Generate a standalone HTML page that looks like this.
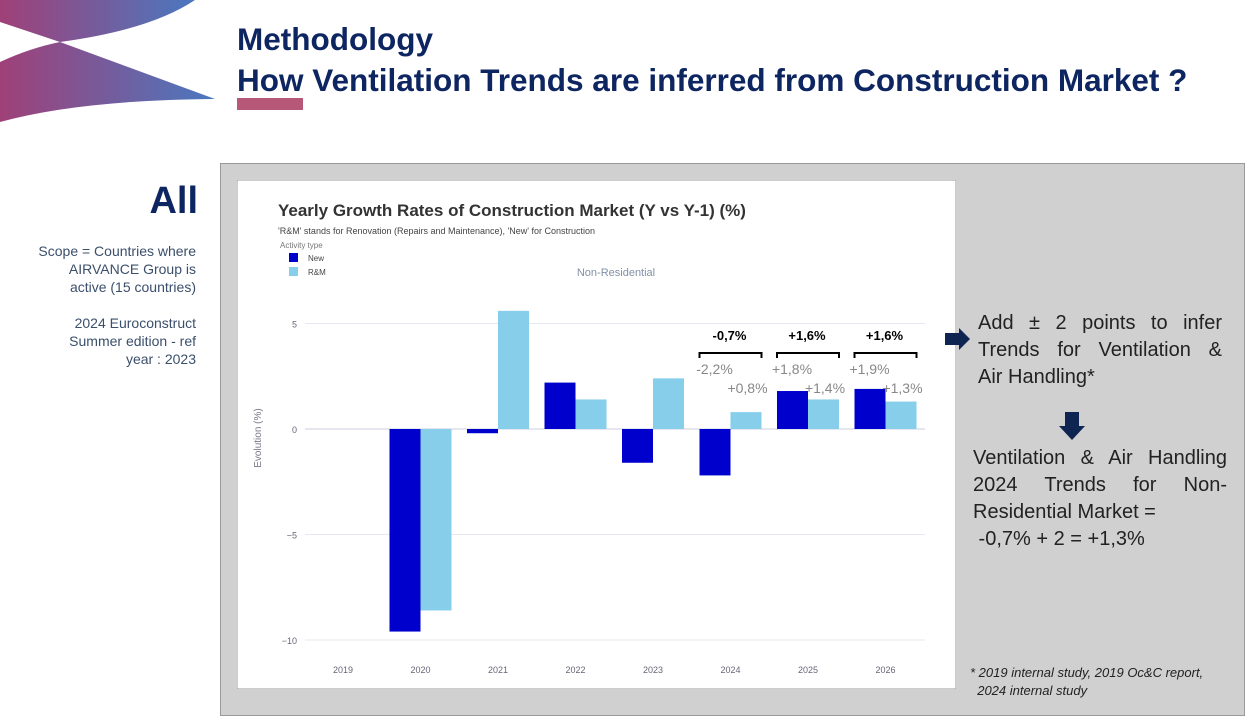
<!DOCTYPE html>
<html><head><meta charset="utf-8"><style>
body{margin:0;width:1252px;height:718px;position:relative;background:#fff;font-family:"Liberation Sans",sans-serif;overflow:hidden}
.abs{position:absolute}
.title{left:237px;color:#0d2560;font-weight:bold;font-size:31.5px;white-space:nowrap}
.lt{right:1056px;text-align:right;color:#3b4f6b;font-size:14px;line-height:18px}
.rt{color:#222;font-size:20px;line-height:27px}
</style></head><body>
<svg class="abs" style="left:0;top:0" width="220" height="125">
<defs><linearGradient id="g" x1="0" x2="1"><stop offset="0" stop-color="#a04078"/><stop offset="1" stop-color="#4a78c0"/></linearGradient></defs>
<path d="M0,0 L195,0 Q150,30 60,42 L0,22 Z" fill="url(#g)"/>
<path d="M0,62 Q30,48 60,42 L215,99 Q80,100 0,122 Z" fill="url(#g)"/>
</svg>
<div class="abs title" style="top:21px">Methodology</div>
<div class="abs title" style="top:62px">How Ventilation Trends are inferred from Construction Market ?</div>
<div class="abs" style="left:237px;top:98px;width:66px;height:12px;background:#b85878"></div>
<div class="abs" style="right:1054px;top:180px;font-size:38px;font-weight:bold;color:#0d2560">All</div>
<div class="abs lt" style="top:242px">Scope = Countries where<br>AIRVANCE Group is<br>active (15 countries)</div>
<div class="abs lt" style="top:314px">2024 Euroconstruct<br>Summer edition - ref<br>year : 2023</div>
<div class="abs" style="left:220px;top:163px;width:1025px;height:553px;background:#d0d0d0;border:1px solid #999;box-sizing:border-box"></div>
<svg class="abs" id="chart" style="left:237px;top:180px" width="719" height="509"></svg>
<svg class="abs" style="left:942px;top:325px" width="30" height="30"><path d="M3,8 H17 V3 L28,14 L17,25 V20 H3 Z" fill="#0d2550"/></svg>
<div class="abs rt" style="left:978px;top:310px;width:244px">
<div style="text-align:justify;text-align-last:justify">Add ± 2 points to infer</div>
<div style="text-align:justify;text-align-last:justify">Trends for Ventilation &amp;</div>
<div>Air Handling*</div></div>
<svg class="abs" style="left:1059px;top:410px" width="28" height="32"><path d="M6,2 H20 V16 H26 L13,30 L0,16 H6 Z" fill="#0d2550"/></svg>
<div class="abs rt" style="left:973px;top:445px;width:254px">
<div style="text-align:justify;text-align-last:justify">Ventilation &amp; Air Handling</div>
<div style="text-align:justify;text-align-last:justify">2024 Trends for Non-</div>
<div>Residential Market =</div>
<div>&nbsp;-0,7% + 2 = +1,3%</div></div>
<div class="abs" style="left:970px;top:664px;font-size:13px;font-style:italic;color:#222;line-height:18px">* 2019 internal study, 2019 Oc&amp;C report,<br>&nbsp;&nbsp;2024 internal study</div>
<script>
const categories=["2019","2020","2021","2022","2023","2024","2025","2026"];
const newVals=[null,-9.6,-0.2,2.2,-1.6,-2.2,1.8,1.9];
const rmVals=[null,-8.6,5.6,1.4,2.4,0.8,1.4,1.3];
const yTicks=[5,0,-5,-10];
const newLabels=[null,null,null,null,null,"-2,2%","+1,8%","+1,9%"];
const rmLabels=[null,null,null,null,null,"+0,8%","+1,4%","+1,3%"];
const groupLabels=[null,null,null,null,null,"-0,7%","+1,6%","+1,6%"];
const svg=document.getElementById('chart');const NS="http://www.w3.org/2000/svg";
function mk(t,a,txt){const e=document.createElementNS(NS,t);for(const k in a)e.setAttribute(k,a[k]);if(txt!=null)e.textContent=txt;svg.appendChild(e);return e;}
const y=v=>249-v*21.1;const step=77.5;const xc=i=>106+i*step;const bw=31;
let e;
e=mk('rect',{x:0,y:0,width:719,height:509,fill:'#fff',stroke:'#999'});


e=mk('text',{x:41,y:36,'font-size':17,'font-weight':'bold',fill:'#333'},'Yearly Growth Rates of Construction Market (Y vs Y-1) (%)');


e=mk('text',{x:41,y:54,'font-size':9,fill:'#444'},"'R&M' stands for Renovation (Repairs and Maintenance), 'New' for Construction");


e=mk('text',{x:43,y:68,'font-size':8,fill:'#777'},'Activity type');


[['New','#0000cc',76],['R&M','#87ceeb',90]].forEach(l=>{
 let r=mk('rect',{x:52,y:l[2]-3,width:9,height:9,fill:l[1]});
 
 
 let t=mk('text',{x:71,y:l[2]+5,'font-size':8,fill:'#444'},l[0]);
 
 
});
e=mk('text',{x:379,y:96,'font-size':11,fill:'#8090a8','text-anchor':'middle'},'Non-Residential');


yTicks.forEach(v=>{
 let l=mk('line',{x1:68,x2:688,y1:y(v),y2:y(v),stroke:v===0?'#ccd':'#e6e8f0'});
 
 
 let t=mk('text',{x:60,y:y(v)+4,'font-size':9,fill:'#667','text-anchor':'end'},v<0?'−'+(-v):String(v));
 
 
});
e=mk('text',{x:24,y:258,'font-size':10,fill:'#778','text-anchor':'middle',transform:'rotate(-90 24 258)'},'Evolution (%)');


categories.forEach((c,i)=>{
 let t=mk('text',{x:xc(i),y:493,'font-size':9,fill:'#667','text-anchor':'middle'},c);
 
 
 if(newVals[i]!=null){let v=newVals[i];let r=mk('rect',{x:xc(i)-bw,y:Math.min(y(v),y(0)),width:bw,height:Math.abs(y(v)-y(0)),fill:'#0000cc'});
  
  }
 if(rmVals[i]!=null){let v=rmVals[i];let r=mk('rect',{x:xc(i),y:Math.min(y(v),y(0)),width:bw,height:Math.abs(y(v)-y(0)),fill:'#87ceeb'});
  
  }
 if(newLabels[i]){let t=mk('text',{x:xc(i)-16,y:194,'font-size':14,fill:'#888','text-anchor':'middle'},newLabels[i]);
  
  }
 if(rmLabels[i]){let t=mk('text',{x:xc(i)+17,y:213,'font-size':14,fill:'#888','text-anchor':'middle'},rmLabels[i]);
  
  }
 if(groupLabels[i]){let t=mk('text',{x:xc(i)-1,y:160,'font-size':13,'font-weight':'bold',fill:'#000','text-anchor':'middle'},groupLabels[i]);
  
  
  let p=mk('path',{d:`M${xc(i)-31},178 V173 H${xc(i)+31} V178`,fill:'none',stroke:'#000','stroke-width':2});
  
  }
});
</script>
</body></html>
